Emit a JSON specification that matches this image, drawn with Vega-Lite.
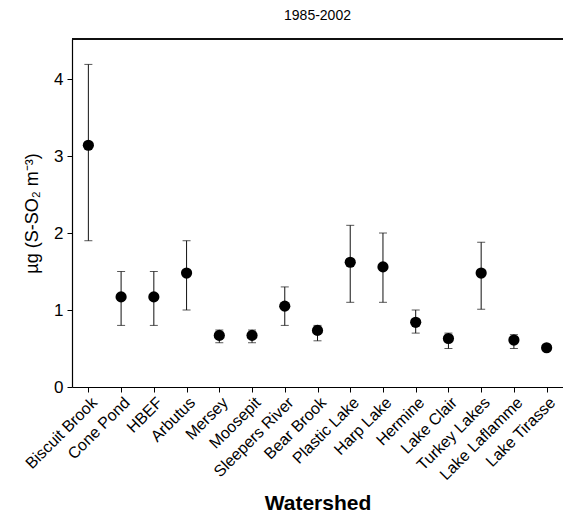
{
  "$schema": "https://vega.github.io/schema/vega-lite/v6.json",
  "width": 491,
  "height": 348,
  "autosize": {"type": "none"},
  "padding": {"left": 72, "top": 39, "right": 0, "bottom": 127},
  "background": "white",
  "config": {
    "font": "Liberation Sans",
    "view": {"stroke": null},
    "axis": {"domainColor": "#000", "tickColor": "#000", "labelColor": "#000", "titleColor": "#000", "grid": false, "tickSize": 5, "domainWidth": 1.2}
  },
  "title": {"text": "1985-2002", "fontSize": 14, "fontWeight": "normal", "offset": 15, "color": "#000"},
  "data": {
    "values": [
      {"site": "Biscuit Brook", "mean": 3.14, "lo": 1.90, "hi": 4.19},
      {"site": "Cone Pond", "mean": 1.17, "lo": 0.80, "hi": 1.50},
      {"site": "HBEF", "mean": 1.17, "lo": 0.80, "hi": 1.50},
      {"site": "Arbutus", "mean": 1.48, "lo": 1.00, "hi": 1.90},
      {"site": "Mersey", "mean": 0.67, "lo": 0.575, "hi": 0.74},
      {"site": "Moosepit", "mean": 0.67, "lo": 0.575, "hi": 0.74},
      {"site": "Sleepers River", "mean": 1.05, "lo": 0.80, "hi": 1.30},
      {"site": "Bear Brook", "mean": 0.735, "lo": 0.60, "hi": 0.80},
      {"site": "Plastic Lake", "mean": 1.62, "lo": 1.10, "hi": 2.10},
      {"site": "Harp Lake", "mean": 1.56, "lo": 1.10, "hi": 2.00},
      {"site": "Hermine", "mean": 0.84, "lo": 0.70, "hi": 1.00},
      {"site": "Lake Clair", "mean": 0.63, "lo": 0.50, "hi": 0.70},
      {"site": "Turkey Lakes", "mean": 1.48, "lo": 1.01, "hi": 1.88},
      {"site": "Lake Laflamme", "mean": 0.61, "lo": 0.50, "hi": 0.68},
      {"site": "Lake Tirasse", "mean": 0.51, "lo": 0.51, "hi": 0.51}
    ]
  },
  "encoding": {
    "x": {
      "field": "site", "type": "nominal", "sort": null,
      "scale": {"type": "point", "padding": 0.5},
      "axis": {"title": "Watershed", "titleFontSize": 21, "titleFontWeight": "bold", "titlePadding": 10, "labelAngle": -45, "labelAlign": "right", "labelBaseline": "top", "labelFontSize": 16, "labelPadding": 2}
    }
  },
  "layer": [
    {
      "mark": {"type": "rule", "color": "#111", "strokeWidth": 1},
      "encoding": {
        "y": {"field": "lo", "type": "quantitative", "scale": {"domain": [0, 4.52], "nice": false, "zero": false},
          "axis": {"title": "µg (S-SO₂ m⁻³)", "titleFontSize": 18, "titleFontWeight": "normal", "titlePadding": 12, "values": [0, 1, 2, 3, 4], "format": "d", "labelFontSize": 17, "labelPadding": 4}},
        "y2": {"field": "hi"}
      }
    },
    {
      "mark": {"type": "tick", "color": "#111", "size": 8, "thickness": 1, "orient": "horizontal"},
      "encoding": {"y": {"field": "lo", "type": "quantitative"}}
    },
    {
      "mark": {"type": "tick", "color": "#111", "size": 8, "thickness": 1, "orient": "horizontal"},
      "encoding": {"y": {"field": "hi", "type": "quantitative"}}
    },
    {
      "mark": {"type": "point", "filled": true, "color": "#000", "opacity": 1, "size": 125},
      "encoding": {"y": {"field": "mean", "type": "quantitative"}}
    },
    {
      "mark": {"type": "rule", "color": "#111", "strokeWidth": 1.5},
      "encoding": {"y": {"datum": 4.52}, "x": {"value": 0}, "x2": {"value": 491}}
    }
  ]
}
